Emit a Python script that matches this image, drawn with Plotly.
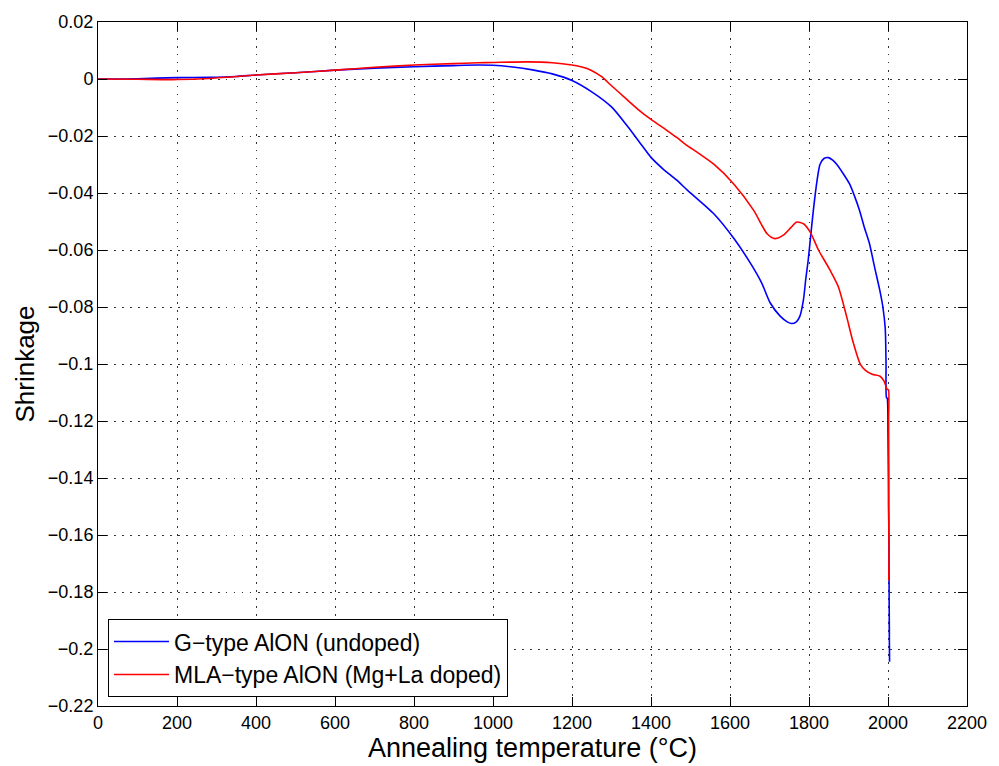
import plotly.graph_objects as go

# G-type AlON (undoped)
g_temp = [0, 100, 200, 280, 350, 400, 500, 600, 700, 800, 900, 962, 1000, 1050, 1100, 1150,
          1200, 1250, 1300, 1340, 1370, 1400, 1430, 1466, 1492, 1559, 1610, 1652, 1680, 1702,
          1727, 1745, 1756, 1768, 1777, 1786, 1792, 1798, 1805, 1811, 1820, 1828, 1838, 1849,
          1860, 1870, 1888, 1903, 1915, 1928, 1940, 1953, 1966, 1979, 1987, 1993, 1995, 1996,
          1998, 2000, 2001, 2002, 2002.5, 2003, 2003.5, 2003, 2004, 2003.5]
g_shrink = [0, 0.0001, 0.0005, 0.0006, 0.0009, 0.0014, 0.0022, 0.0031, 0.0038, 0.0043, 0.0047,
            0.0049, 0.0048, 0.0042, 0.0032, 0.0018, -0.0005, -0.0045, -0.0098, -0.0165, -0.022,
            -0.0275, -0.0315, -0.0356, -0.0390, -0.0473, -0.056, -0.0647, -0.0715, -0.0786,
            -0.0832, -0.0852, -0.0858, -0.0852, -0.0832, -0.0774, -0.070, -0.0635, -0.054,
            -0.0461, -0.036, -0.0299, -0.0279, -0.0276, -0.0285, -0.0299, -0.0335, -0.0369,
            -0.041, -0.0461, -0.052, -0.0577, -0.066, -0.074, -0.080, -0.0875, -0.0995, -0.1117,
            -0.112, -0.125, -0.14, -0.155, -0.17, -0.185, -0.195, -0.19, -0.2045, -0.198]

# MLA-type AlON (Mg+La doped)
m_temp = [0, 100, 200, 280, 400, 500, 600, 700, 800, 900, 962, 1000, 1088, 1150, 1200, 1225,
          1248, 1275, 1298, 1340, 1370, 1400, 1440, 1466, 1488, 1520, 1559, 1610, 1660, 1694,
          1714, 1735, 1755, 1769, 1786, 1803, 1824, 1853, 1874, 1895, 1912, 1930, 1943, 1960,
          1980, 1990, 1998, 2001, 2001.5, 2002, 2001.5, 2002.5, 2002, 2002.5]
m_shrink = [0, -0.0001, -0.0002, 0.0002, 0.0014, 0.0022, 0.0031, 0.0041, 0.0049, 0.0054,
            0.0057, 0.0058, 0.0060, 0.0057, 0.0049, 0.0042, 0.0031, 0.0008, -0.0021, -0.0073,
            -0.011, -0.0142, -0.018, -0.0206, -0.023, -0.026, -0.0299, -0.0369, -0.0461,
            -0.0543, -0.056, -0.0548, -0.052, -0.0502, -0.0508, -0.0537, -0.060, -0.067,
            -0.0728, -0.0832, -0.0925, -0.1001, -0.1022, -0.1036, -0.1043, -0.106, -0.1089,
            -0.109, -0.12, -0.14, -0.15, -0.165, -0.176, -0.17]

x_ticks = [0, 200, 400, 600, 800, 1000, 1200, 1400, 1600, 1800, 2000, 2200]
y_ticks = [0.02, 0, -0.02, -0.04, -0.06, -0.08, -0.1, -0.12, -0.14, -0.16, -0.18, -0.2, -0.22]
y_labels = ["0.02", "0", "\u22120.02", "\u22120.04", "\u22120.06", "\u22120.08", "\u22120.1",
            "\u22120.12", "\u22120.14", "\u22120.16", "\u22120.18", "\u22120.2", "\u22120.22"]

FONT = "Liberation Sans, Arial, Helvetica, sans-serif"

fig = go.Figure()
fig.add_trace(go.Scatter(x=g_temp, y=g_shrink, mode="lines", name="G\u2212type AlON (undoped)",
                         line=dict(color="#0000ff", width=1.6, shape="spline", smoothing=0.7)))
fig.add_trace(go.Scatter(x=m_temp, y=m_shrink, mode="lines", name="MLA\u2212type AlON (Mg+La doped)",
                         line=dict(color="#ff0000", width=1.6, shape="spline", smoothing=0.7)))

axis_common = dict(
    showline=True, linecolor="black", linewidth=1, mirror="ticks",
    ticks="inside", ticklen=9, tickcolor="black", tickwidth=1,
    showgrid=True, gridcolor="rgba(0,0,0,0.8)", griddash="1.5px,6.5px", gridwidth=1,
    zeroline=False, tickfont=dict(family=FONT, size=18, color="black"),
)

fig.update_xaxes(range=[0, 2200], tickvals=x_ticks, ticktext=[str(v) for v in x_ticks],
                 title=dict(text="Annealing temperature (\u00b0C)", font=dict(family=FONT, size=27, color="black"),
                            standoff=2),
                 **axis_common)
fig.update_yaxes(range=[-0.22, 0.02], tickvals=y_ticks, ticktext=y_labels,
                 title=dict(text="Shrinkage", font=dict(family=FONT, size=26, color="black"), standoff=5),
                 **axis_common)

fig.update_layout(
    width=999, height=766,
    margin=dict(l=98, r=28, t=17, b=60),
    paper_bgcolor="white", plot_bgcolor="white",
    font=dict(family=FONT, color="black"),
    showlegend=True,
    legend=dict(x=0.0115, y=0.013, xanchor="left", yanchor="bottom",
                bgcolor="white", bordercolor="black", borderwidth=1,
                font=dict(family=FONT, size=23, color="black"),
                tracegroupgap=0, itemwidth=55),
)

fig.write_html("out.html")
